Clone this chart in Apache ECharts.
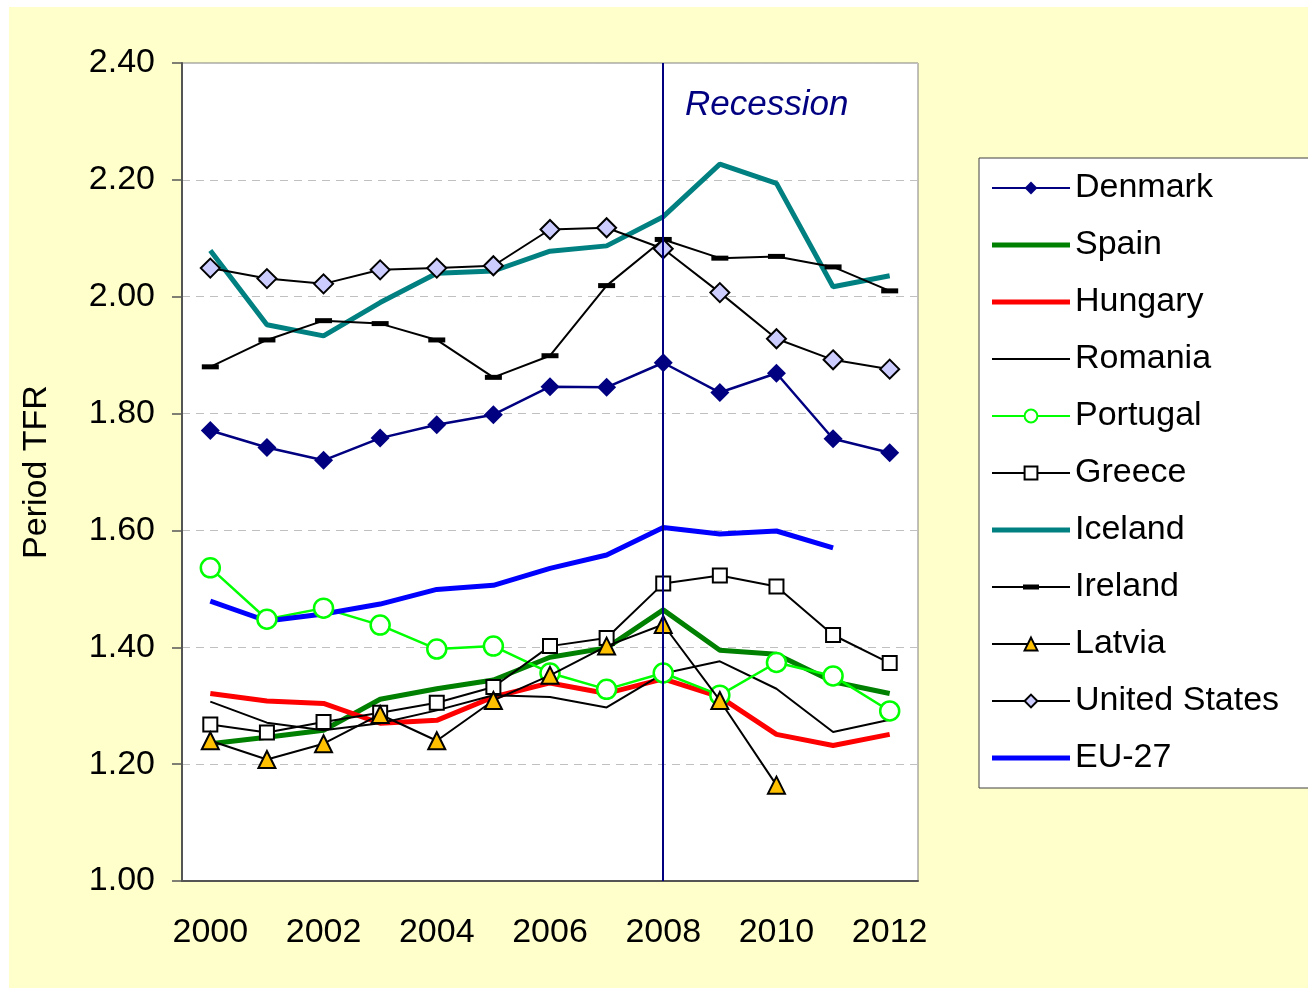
<!DOCTYPE html>
<html>
<head>
<meta charset="utf-8">
<script src="https://cdn.jsdelivr.net/npm/echarts@6/dist/echarts.min.js"></script>
<style>
  html, body { margin: 0; padding: 0; background: #fff; }
  #JS_TfrChart { position: absolute; left: 9px; top: 7px; width: 1299px; height: 981px; }
</style>
</head>
<body>
<div id="JS_TfrChart"></div>
<script>
const years = ["2000", "2001", "2002", "2003", "2004", "2005", "2006", "2007", "2008", "2009", "2010", "2011", "2012"];
const yTicks = [1.0, 1.2, 1.4, 1.6, 1.8, 2.0, 2.2, 2.4];

const denmark = [1.771, 1.742, 1.720, 1.758, 1.781, 1.798, 1.846, 1.845, 1.887, 1.836, 1.869, 1.757, 1.733];
const spain = [1.235, 1.246, 1.258, 1.311, 1.329, 1.344, 1.383, 1.399, 1.464, 1.395, 1.388, 1.341, 1.321];
const hungary = [1.321, 1.308, 1.304, 1.270, 1.275, 1.315, 1.339, 1.321, 1.346, 1.315, 1.251, 1.232, 1.251];
const romania = [1.307, 1.271, 1.258, 1.270, 1.292, 1.318, 1.315, 1.297, 1.355, 1.376, 1.329, 1.255, 1.276];
const portugal = [1.536, 1.448, 1.467, 1.438, 1.397, 1.402, 1.356, 1.328, 1.356, 1.318, 1.374, 1.351, 1.291];
const greece = [1.268, 1.254, 1.272, 1.288, 1.305, 1.332, 1.402, 1.416, 1.509, 1.523, 1.504, 1.421, 1.373];
const iceland = [2.079, 1.952, 1.933, 1.990, 2.040, 2.044, 2.078, 2.087, 2.137, 2.227, 2.194, 2.017, 2.036];
const ireland = [1.880, 1.926, 1.959, 1.954, 1.926, 1.862, 1.899, 2.019, 2.098, 2.066, 2.069, 2.051, 2.010];
const latvia = [1.240, 1.208, 1.235, 1.285, 1.240, 1.309, 1.352, 1.402, 1.439, 1.309, 1.164, null, null];
const unitedStates = [2.049, 2.031, 2.022, 2.046, 2.049, 2.053, 2.115, 2.118, 2.082, 2.007, 1.928, 1.892, 1.876];
const eu27 = [1.479, 1.445, 1.457, 1.474, 1.499, 1.506, 1.535, 1.558, 1.605, 1.594, 1.599, 1.570, null];

const recessionYear = "2008";

let option;

// plain line icon for the legend (no marker)
function lineIcon(h) {
  return "path://M0,0L78,0L78," + h + "L0," + h + "Z";
}

// thin line with a short thick dash in the middle (Ireland)
const dashIcon = "path://M0,1.5L78,1.5L78,3.5L0,3.5Z M31,0L47,0L47,5L31,5Z";

function lineSeries(name, data, color, width, extra) {
  return Object.assign({
    name: name,
    type: "line",
    data: data,
    symbol: "none",
    lineStyle: { color: color, width: width },
    itemStyle: { color: color },
    emphasis: { disabled: true },
    animation: false,
  }, extra || {});
}

function initOpt() {
  option = {
    backgroundColor: "#ffffcc",
    textStyle: { fontFamily: "Liberation Sans, Arial, sans-serif" },
    grid: {
      left: 173,
      top: 56,
      width: 736,
      height: 818,
      outerBoundsMode: "none",
      show: true,
      backgroundColor: "#ffffff",
      borderColor: "#808080",
      borderWidth: 1,
    },
    legend: {
      orient: "vertical",
      left: 970,
      top: 151,
      width: 340,
      padding: [12, 40, 12, 12],
      backgroundColor: "#ffffff",
      borderColor: "#404040",
      borderWidth: 1,
      borderRadius: 0,
      itemWidth: 78,
      itemHeight: 16,
      itemGap: 21,
      textStyle: { fontSize: 34, color: "#000", lineHeight: 36, padding: [0, 0, 0, 0] },
      data: [
        "Denmark",
        { name: "Spain", icon: lineIcon(5) },
        { name: "Hungary", icon: lineIcon(5) },
        { name: "Romania", icon: lineIcon(2) },
        "Portugal",
        "Greece",
        { name: "Iceland", icon: lineIcon(5) },
        { name: "Ireland", icon: dashIcon },
        "Latvia",
        "United States",
        { name: "EU-27", icon: lineIcon(5) },
      ],
    },
    xAxis: {
      type: "category",
      data: years,
      boundaryGap: true,
      axisLine: { lineStyle: { color: "#555", width: 2 } },
      axisTick: { interval: 0, length: 9, alignWithLabel: false, lineStyle: { color: "#555", width: 1.5 } },
      axisLabel: { interval: 1, fontSize: 34, color: "#000", margin: 35 },
      splitLine: { show: false },
    },
    yAxis: {
      type: "value",
      min: yTicks[0],
      max: yTicks[yTicks.length - 1],
      interval: 0.2,
      name: "Period TFR",
      nameLocation: "middle",
      nameGap: 128,
      nameTextStyle: { fontSize: 34, color: "#000" },
      axisLine: { show: true, lineStyle: { color: "#555", width: 2 } },
      axisTick: { show: true, length: 10, lineStyle: { color: "#555", width: 1.5 } },
      axisLabel: {
        fontSize: 34,
        color: "#000",
        margin: 27,
        formatter: (v) => v.toFixed(2),
      },
      splitLine: { lineStyle: { color: "#c0c0c0", type: [8, 6], width: 1.2 } },
    },
    graphic: [
      {
        type: "text",
        left: 676,
        top: 81,
        style: {
          text: "Recession",
          font: "italic 35px 'Liberation Sans', Arial, sans-serif",
          fill: "#000080",
        },
      },
    ],
    series: [
      lineSeries("Denmark", denmark, "#000080", 2.5, {
        symbol: "diamond",
        symbolSize: 19,
        z: 5,
        markLine: {
          silent: true,
          symbol: "none",
          label: { show: false },
          lineStyle: { color: "#000080", width: 2, type: "solid" },
          data: [{ xAxis: recessionYear }],
          animation: false,
        },
      }),
      lineSeries("Spain", spain, "#008000", 5),
      lineSeries("Hungary", hungary, "#ff0000", 5),
      lineSeries("Romania", romania, "#000000", 2),
      lineSeries("Portugal", portugal, "#00ff00", 2.5, {
        symbol: "circle",
        symbolSize: 19,
        itemStyle: { color: "#ffffff", borderColor: "#00ff00", borderWidth: 2.5 },
      }),
      lineSeries("Greece", greece, "#000000", 2, {
        symbol: "rect",
        symbolSize: 14,
        itemStyle: { color: "#ffffff", borderColor: "#000000", borderWidth: 2 },
      }),
      lineSeries("Iceland", iceland, "#008080", 5),
      lineSeries("Ireland", ireland, "#000000", 2, {
        symbol: "rect",
        symbolSize: [17, 5],
        itemStyle: { color: "#000000" },
      }),
      lineSeries("Latvia", latvia, "#000000", 2, {
        symbol: "triangle",
        symbolSize: 17,
        itemStyle: { color: "#ffc000", borderColor: "#000000", borderWidth: 2 },
        z: 4,
      }),
      lineSeries("United States", unitedStates, "#000000", 2, {
        symbol: "diamond",
        symbolSize: 19,
        itemStyle: { color: "#ccccff", borderColor: "#000000", borderWidth: 2 },
      }),
      lineSeries("EU-27", eu27, "#0000ff", 5),
    ],
  };
}

function initView() {
  initOpt();
  const chartDom = document.getElementById("JS_TfrChart");
  const tfrChart = echarts.init(chartDom);
  option && tfrChart.setOption(option);
}

initView();
</script>
</body>
</html>
